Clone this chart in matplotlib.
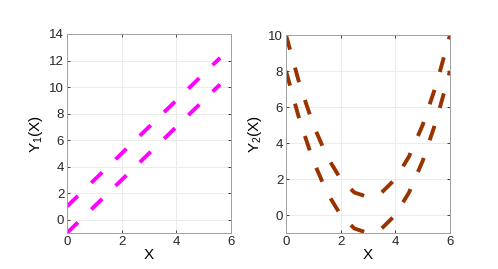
import matplotlib
matplotlib.use('Agg')
import matplotlib.pyplot as plt

# left panel: two straight lines (end points)
x_lin = [0, 5.6]
y1_low = [-1, 10.2]
y1_high = [1, 12.2]

# right panel: two parabolas
x_par = [0, 0.5, 1, 1.5, 2, 2.5, 3, 3.5, 4, 4.5, 5, 5.5, 6]
y2_high = [10, 7.25, 5, 3.25, 2, 1.25, 1, 1.25, 2, 3.25, 5, 7.25, 10]
y2_low = [8, 5.25, 3, 1.25, 0, -0.75, -1, -0.75, 0, 1.25, 3, 5.25, 8]

plt.rcParams['font.family'] = ['Liberation Sans', 'DejaVu Sans']

fig = plt.figure(figsize=(4.98, 2.69), dpi=100)
W, H = 498, 269
ax1 = fig.add_axes([67 / W, 1 - 233 / H, 164 / W, 199 / H])
ax2 = fig.add_axes([286 / W, 1 - 233 / H, 164 / W, 198 / H])

magenta = '#ff00ff'
brown = '#993300'
dash = (3.9, 4.8)

ax1.plot(x_lin, y1_low, color=magenta, lw=2.8, dashes=dash)
ax1.plot(x_lin, y1_high, color=magenta, lw=2.8, dashes=dash)
ax1.set_xlim(0, 6)
ax1.set_ylim(-1, 14)
ax1.set_yticks(range(0, 15, 2))
ax1.set_ylabel('Y$_\\mathregular{1}$(X)', fontsize=11, labelpad=3)

ax2.plot(x_par, y2_high, color=brown, lw=2.8, dashes=dash)
ax2.plot(x_par, y2_low, color=brown, lw=2.8, dashes=dash)
ax2.set_xlim(0, 6)
ax2.set_ylim(-1, 10)
ax2.set_yticks(range(0, 11, 2))
ax2.set_ylabel('Y$_\\mathregular{2}$(X)', fontsize=11, labelpad=3)

for ax in (ax1, ax2):
    ax.set_xticks([0, 2, 4, 6])
    ax.set_xlabel('X', fontsize=11, labelpad=0)
    ax.grid(True, color='#ebebeb', lw=0.7)
    ax.set_axisbelow(True)
    ax.tick_params(direction='in', length=2.5, width=0.6, colors='#262626',
                   labelsize=9.5, pad=2, top=True, right=True)
    for spine in ax.spines.values():
        spine.set_color('#a0a0a0')
        spine.set_linewidth(0.7)

fig.savefig('out.png', dpi=100)
